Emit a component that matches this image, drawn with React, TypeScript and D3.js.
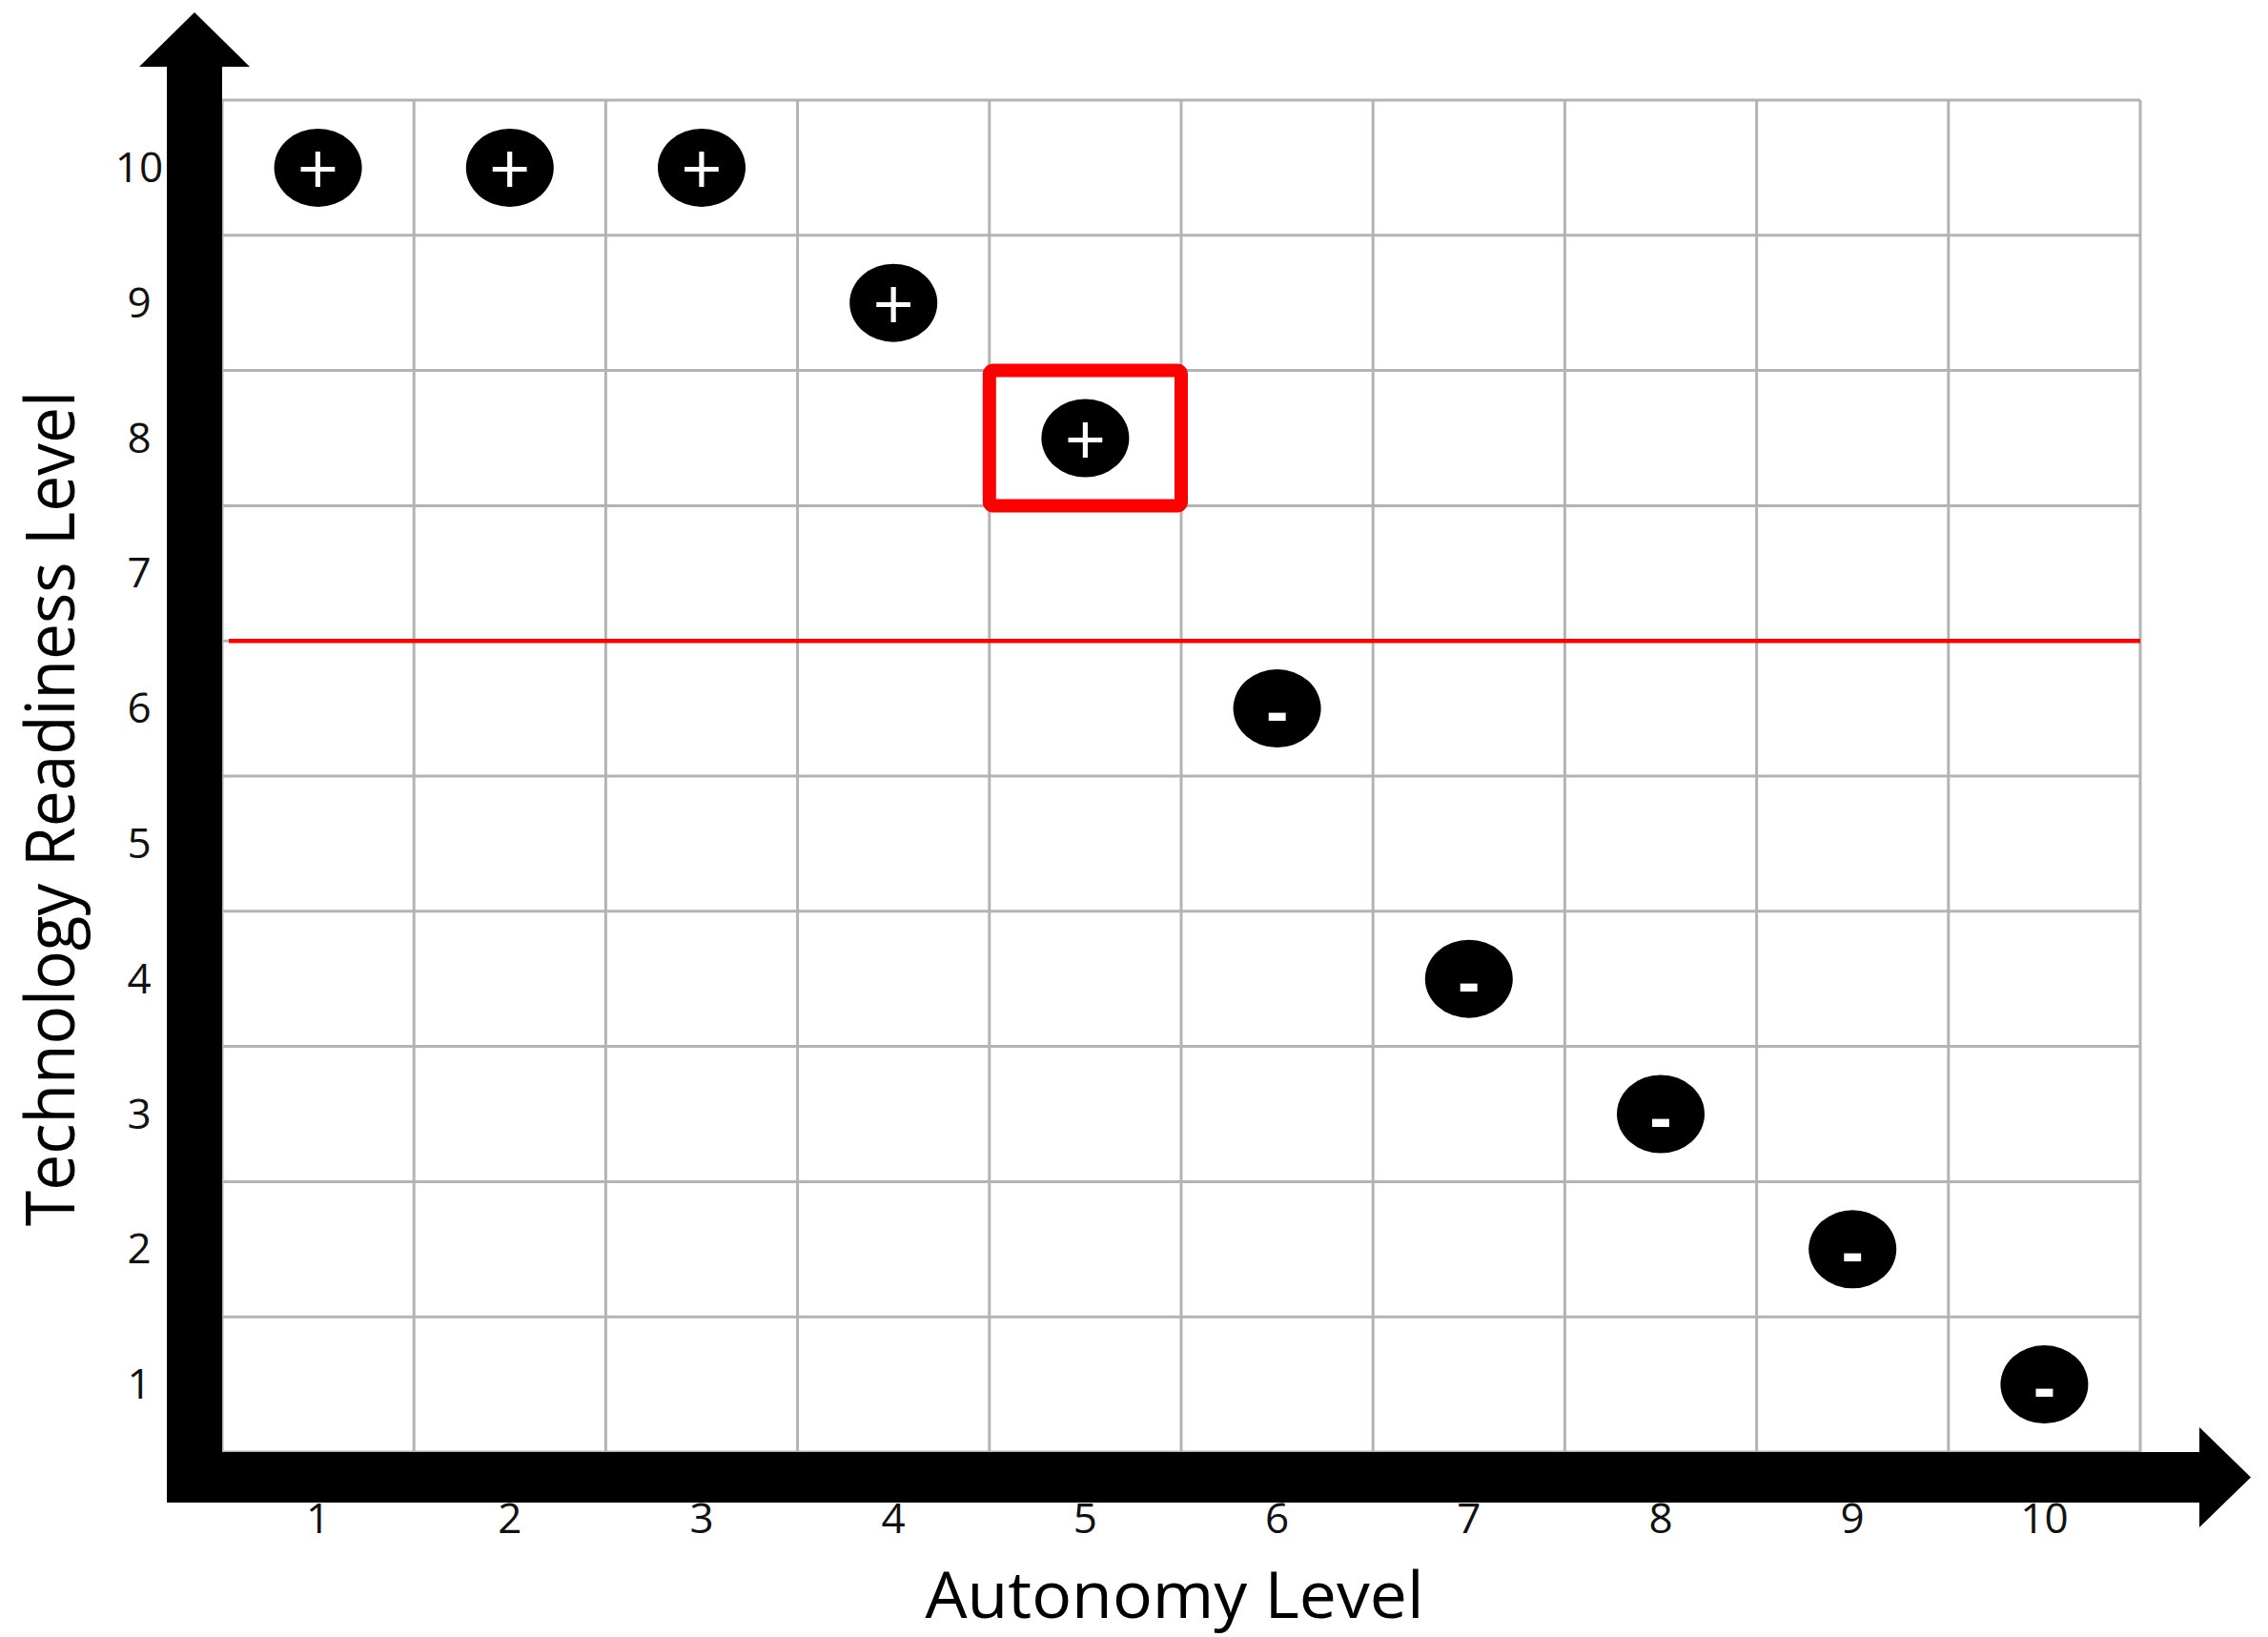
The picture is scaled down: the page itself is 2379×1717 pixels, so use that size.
import React, { useEffect, useRef } from 'react';
import * as d3 from 'd3';

const autonomyLevels = [1, 2, 3, 4, 5, 6, 7, 8, 9, 10];
const readinessLevels = [10, 10, 10, 9, 8, 6, 4, 3, 2, 1];
const signs = ['+', '+', '+', '+', '+', '-', '-', '-', '-', '-'];
const tickLabels = ['1', '2', '3', '4', '5', '6', '7', '8', '9', '10'];
const thresholdLevel = 6.5;
const highlighted = { autonomy: 5, readiness: 8 };

const W = 2379;
const H = 1717;
const FONT = '"Open Sans", "Noto Sans", sans-serif';

const App = () => {
  const ref = useRef<SVGSVGElement | null>(null);

  useEffect(() => {
    if (!ref.current) return;
    const svg = d3.select(ref.current);
    svg.selectAll('*').remove();

    const left = 233, right = 2245, top = 105, bottom = 1523;
    const x = d3.scaleLinear().domain([0.5, 10.5]).range([left, right]);
    const y = d3.scaleLinear().domain([0.5, 10.5]).range([bottom, top]);

    // grid
    const edges = d3.range(0.5, 11, 1);
    const grid = svg.append('g').attr('stroke', '#b3b3b3').attr('stroke-width', 3);
    grid.selectAll('line.v')
      .data(edges)
      .enter().append('line')
      .attr('class', 'v')
      .attr('x1', d => x(d)).attr('x2', d => x(d))
      .attr('y1', top).attr('y2', bottom);
    grid.selectAll('line.h')
      .data(edges)
      .enter().append('line')
      .attr('class', 'h')
      .attr('x1', left).attr('x2', right)
      .attr('y1', d => y(d)).attr('y2', d => y(d));

    // threshold line
    svg.append('line')
      .attr('x1', left + 7).attr('x2', right)
      .attr('y1', y(thresholdLevel)).attr('y2', y(thresholdLevel))
      .attr('stroke', '#ff0000')
      .attr('stroke-width', 4.5);

    // highlighted cell
    svg.append('rect')
      .attr('x', x(highlighted.autonomy - 0.5))
      .attr('y', y(highlighted.readiness + 0.5))
      .attr('width', x(highlighted.autonomy + 0.5) - x(highlighted.autonomy - 0.5))
      .attr('height', y(highlighted.readiness - 0.5) - y(highlighted.readiness + 0.5))
      .attr('rx', 4)
      .attr('fill', 'none')
      .attr('stroke', '#ff0000')
      .attr('stroke-width', 14);

    // axes as thick arrows
    const shaftL = 175, shaftR = 233;
    const hTop = 1523, hBot = 1576;
    const vx = (shaftL + shaftR) / 2;
    const hy = (hTop + hBot) / 2;
    svg.append('path')
      .attr('d', `M${shaftL},${hBot} L${shaftL},70 L146,70 L${vx},13 L262,70 L${shaftR},70 L${shaftR},${hBot} Z`)
      .attr('fill', '#000');
    svg.append('path')
      .attr('d', `M${shaftL},${hTop} L2307,${hTop} L2307,1497 L2361,${hy} L2307,1602 L2307,${hBot} L${shaftL},${hBot} Z`)
      .attr('fill', '#000');

    // markers
    const pts = autonomyLevels.map((a, i) => ({ a, r: readinessLevels[i], s: signs[i] }));
    const marks = svg.selectAll('g.mark')
      .data(pts)
      .enter().append('g')
      .attr('class', 'mark')
      .attr('transform', d => `translate(${x(d.a)},${y(d.r)})`);
    marks.append('ellipse')
      .attr('rx', 46).attr('ry', 41)
      .attr('fill', '#000');
    marks.append('text')
      .text(d => d.s)
      .attr('text-anchor', 'middle')
      .attr('y', d => d.s === '+' ? 29 : 27)
      .style('font-family', FONT)
      .style('font-size', d => d.s === '+' ? '76px' : '68px')
      .style('font-weight', d => d.s === '+' ? 400 : 700)
      .style('fill', '#fff');

    // tick labels
    svg.selectAll('text.xt')
      .data(autonomyLevels)
      .enter().append('text')
      .attr('class', 'xt')
      .attr('x', d => x(d))
      .attr('y', 1608)
      .attr('text-anchor', 'middle')
      .text((d, i) => tickLabels[i])
      .style('font-family', FONT)
      .style('font-size', '44px')
      .style('fill', '#111');
    svg.selectAll('text.yt')
      .data(autonomyLevels)
      .enter().append('text')
      .attr('class', 'yt')
      .attr('x', 146)
      .attr('y', d => y(d) + 15)
      .attr('text-anchor', 'middle')
      .text((d, i) => tickLabels[i])
      .style('font-family', FONT)
      .style('font-size', '44px')
      .style('fill', '#111');

    // axis titles
    svg.append('text')
      .attr('x', 1232)
      .attr('y', 1697)
      .attr('text-anchor', 'middle')
      .attr('textLength', 523)
      .attr('lengthAdjust', 'spacingAndGlyphs')
      .text('Autonomy Level')
      .style('font-family', FONT)
      .style('font-size', '68px')
      .style('fill', '#000');
    svg.append('text')
      .attr('transform', 'translate(78,848) rotate(-90)')
      .attr('text-anchor', 'middle')
      .attr('textLength', 876)
      .attr('lengthAdjust', 'spacingAndGlyphs')
      .text('Technology Readiness Level')
      .style('font-family', FONT)
      .style('font-size', '72px')
      .style('fill', '#000');
  }, []);

  return (
    <svg
      ref={ref}
      width={W}
      height={H}
      style={{ position: 'absolute', left: 0, top: 0, background: '#fff' }}
    ></svg>
  );
};

export default App;
